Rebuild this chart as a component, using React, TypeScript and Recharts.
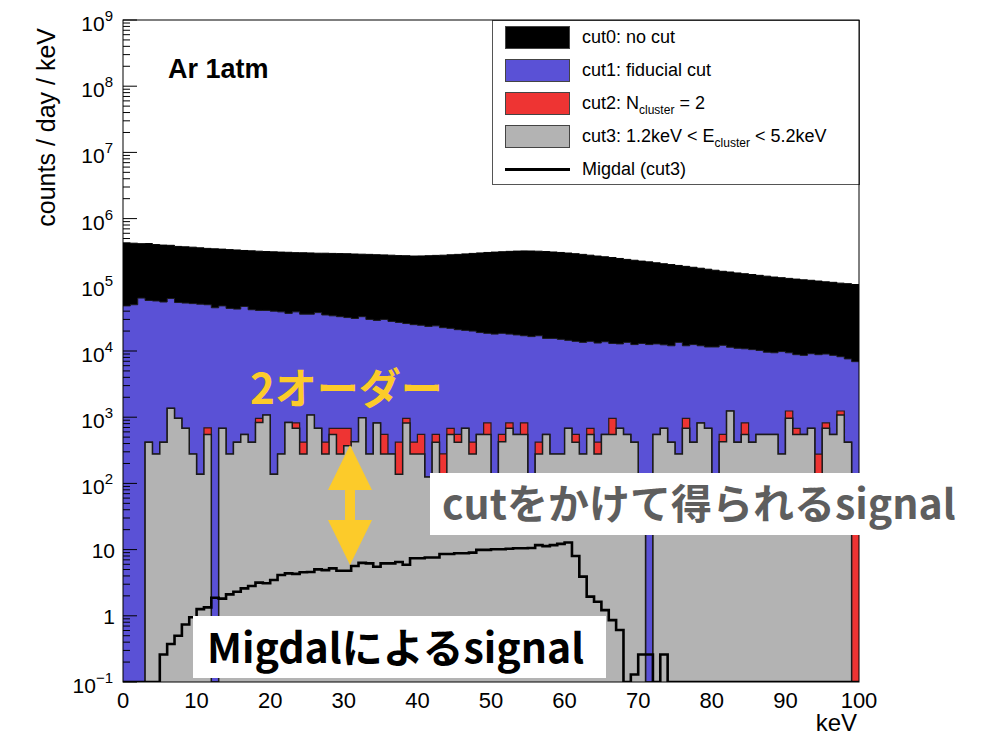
import React from "react";
import { ComposedChart, Area, Line, XAxis, YAxis } from "recharts";

// counts / day / keV per 1 keV bin (bin i covers [i, i+1) keV)
const CUT0_NO_CUT = [
  4.3e5, 4.25e5, 4.18e5, 4.2e5, 4.05e5, 3.98e5, 3.95e5, 3.8e5, 3.75e5, 3.7e5,
  3.62e5, 3.55e5, 3.5e5, 3.46e5, 3.4e5, 3.36e5, 3.3e5, 3.26e5, 3.22e5, 3.18e5,
  3.15e5, 3.12e5, 3.1e5, 3.06e5, 3.05e5, 3.03e5, 3.0e5, 3.0e5, 2.98e5, 2.96e5,
  2.95e5, 2.92e5, 2.9e5, 2.88e5, 2.85e5, 2.83e5, 2.8e5, 2.76e5, 2.75e5, 2.72e5,
  2.73e5, 2.75e5, 2.78e5, 2.8e5, 2.84e5, 2.88e5, 2.93e5, 2.98e5, 3.03e5, 3.08e5,
  3.12e5, 3.16e5, 3.2e5, 3.23e5, 3.25e5, 3.24e5, 3.22e5, 3.18e5, 3.13e5, 3.08e5,
  3.02e5, 2.95e5, 2.88e5, 2.8e5, 2.72e5, 2.65e5, 2.58e5, 2.5e5, 2.42e5, 2.35e5,
  2.28e5, 2.22e5, 2.15e5, 2.08e5, 2.02e5, 1.96e5, 1.9e5, 1.84e5, 1.78e5, 1.72e5,
  1.66e5, 1.6e5, 1.56e5, 1.51e5, 1.47e5, 1.43e5, 1.39e5, 1.35e5, 1.31e5, 1.28e5,
  1.25e5, 1.22e5, 1.19e5, 1.17e5, 1.14e5, 1.11e5, 1.09e5, 1.06e5, 1.04e5, 1.01e5,
];

const CUT1_FIDUCIAL = [
  4.8e4, 5.0e4, 6.3e4, 5.8e4, 5.7e4, 5.5e4, 6.2e4, 5.4e4, 5.3e4, 5.2e4,
  5.1e4, 5.0e4, 4.5e4, 4.8e4, 4.4e4, 4.3e4, 4.7e4, 4.2e4, 4.1e4, 4.1e4,
  4.0e4, 3.9e4, 3.7e4, 3.9e4, 3.6e4, 3.6e4, 3.8e4, 3.5e4, 3.4e4, 3.3e4,
  3.2e4, 3.1e4, 3.3e4, 3.0e4, 2.9e4, 3.0e4, 2.8e4, 2.7e4, 2.6e4, 2.5e4,
  2.45e4, 2.35e4, 2.4e4, 2.25e4, 2.2e4, 2.1e4, 2.05e4, 2.0e4, 1.9e4, 1.85e4,
  1.8e4, 1.85e4, 1.8e4, 1.75e4, 1.7e4, 1.65e4, 1.7e4, 1.55e4, 1.55e4, 1.5e4,
  1.45e4, 1.4e4, 1.35e4, 1.4e4, 1.32e4, 1.38e4, 1.3e4, 1.28e4, 1.35e4, 1.25e4,
  1.3e4, 1.25e4, 1.28e4, 1.24e4, 1.2e4, 1.35e4, 1.2e4, 1.25e4, 1.2e4, 1.15e4,
  1.15e4, 1.22e4, 1.14e4, 1.1e4, 1.08e4, 1.05e4, 1.02e4, 9.6e3, 9.4e3, 9.8e3,
  9.4e3, 8.8e3, 8.6e3, 9.1e3, 8.8e3, 9.0e3, 8.6e3, 8.2e3, 7.6e3, 6.9e3,
];

const CUT2_NCLUSTER = [
  0, 0, 0, 420, 277, 420, 1360, 960, 680, 277,
  138, 690, 0, 680, 277, 420, 550, 420, 960, 1080,
  138, 277, 835, 820, 420, 1080, 680, 420, 680, 680,
  680, 425, 980, 277, 820, 550, 277, 420, 960, 420,
  550, 125, 550, 280, 680, 550, 680, 420, 550, 820,
  120, 550, 820, 550, 820, 120, 420, 550, 277, 277,
  680, 550, 277, 680, 420, 550, 960, 680, 550, 420,
  110, 0, 550, 680, 420, 277, 960, 420, 820, 680,
  125, 550, 1240, 420, 820, 420, 550, 550, 550, 277,
  1240, 680, 550, 680, 277, 820, 550, 1240, 420, 100,
];

const CUT3_ECLUSTER = [
  0, 0, 0, 420, 277, 420, 1360, 960, 680, 277,
  138, 550, 0, 680, 277, 420, 550, 420, 835, 1080,
  138, 277, 835, 680, 277, 1080, 680, 277, 550, 277,
  370, 425, 980, 277, 820, 277, 277, 138, 820, 277,
  277, 125, 420, 125, 550, 420, 680, 277, 550, 550,
  120, 425, 680, 550, 550, 120, 277, 550, 277, 277,
  680, 420, 277, 550, 277, 550, 550, 680, 550, 420,
  110, 0, 550, 680, 420, 277, 680, 420, 820, 680,
  125, 425, 1240, 420, 550, 420, 550, 550, 550, 277,
  960, 550, 550, 680, 100, 680, 550, 1080, 420, 0,
];

const MIGDAL_CUT3 = [
  0, 0, 0, 0, 0, 0.26, 0.375, 0.5, 0.74, 0.95,
  1.26, 1.34, 1.87, 1.82, 2.11, 2.31, 2.6, 2.82, 3.17, 3.1,
  3.47, 4.13, 4.37, 4.3, 4.54, 4.6, 5.03, 4.9, 5.2, 4.8,
  4.8, 5.65, 6.3, 6.2, 5.5, 6.2, 6.2, 6.5, 5.9, 7.4,
  7.4, 7.6, 7.6, 8.6, 8.6, 8.8, 8.8, 9.0, 9.9, 9.9,
  10.1, 10.1, 10.3, 10.5, 10.5, 10.6, 11.7, 11.3, 11.7, 12.2,
  12.8, 8.0, 3.9, 1.95, 1.63, 1.22, 0.86, 0.61, 0, 0.13,
  0.26, 0.26, 0, 0.26, 0, 0, 0, 0, 0, 0,
  0, 0, 0, 0, 0, 0, 0, 0, 0, 0,
  0, 0, 0, 0, 0, 0, 0, 0, 0, 0,
];

const X_TICKS = [0, 10, 20, 30, 40, 50, 60, 70, 80, 90, 100];
const DECADES = [0.1, 1, 10, 1e2, 1e3, 1e4, 1e5, 1e6, 1e7, 1e8, 1e9];
const DECADE_LABELS = ["−1", "", "", "2", "3", "4", "5", "6", "7", "8", "9"];
const MINOR_STEPS = [2, 3, 4, 5, 6, 7, 8, 9];

const LEGEND_ITEMS = [
  { key: "cut0", label: "cut0: no cut", color: "#000000" },
  { key: "cut1", label: "cut1: fiducial cut", color: "#5a51d6" },
  { key: "cut2", label: "cut2: N", sub: "cluster", tail: " = 2", color: "#ee3433" },
  { key: "cut3", label: "cut3: 1.2keV < E", sub: "cluster", tail: " < 5.2keV", color: "#b3b3b3" },
  { key: "migdal", label: "Migdal (cut3)", color: null },
];

const ROOT_FONT = "'Liberation Sans', Arial, Helvetica, sans-serif";
const JP_FONT = "'Noto Sans CJK JP', 'Noto Sans', sans-serif";
const FLOOR = 0.1; // empty bins sit on the frame floor of the log axis

const Y_TICKS = DECADES.flatMap((d, i) =>
  i === DECADES.length - 1 ? [d] : [d, ...MINOR_STEPS.map((m) => m * d)]
);

const rows = Array.from({ length: 101 }, (_, x) => {
  const b = Math.min(x, 99);
  return {
    x,
    cut0: Math.max(CUT0_NO_CUT[b], FLOOR),
    cut1: Math.max(CUT1_FIDUCIAL[b], FLOOR),
    cut2: Math.max(CUT2_NCLUSTER[b], FLOOR),
    cut3: Math.max(CUT3_ECLUSTER[b], FLOOR),
    migdal: Math.max(MIGDAL_CUT3[b], FLOOR),
  };
});

function YTick(props: any) {
  const { x, y, payload } = props;
  const idx = DECADES.findIndex((d) => Math.abs(d - payload.value) < d * 1e-6);
  const major = idx >= 0;
  const left = x + 8;
  let label: React.ReactNode = null;
  if (major) {
    const sup = DECADE_LABELS[idx];
    const base = idx === 1 ? "1" : "10";
    label = (
      <text
        x={sup ? x - 2 : x}
        y={y + (sup ? 11 : 8)}
        textAnchor="end"
        fontFamily={ROOT_FONT}
        fontSize={21}
        fill="#000"
      >
        {base}
        {sup && (
          <tspan dy={-10} fontSize={15}>
            {sup}
          </tspan>
        )}
      </text>
    );
  }
  return (
    <g>
      <line x1={left} x2={left + (major ? 14 : 7)} y1={y} y2={y} stroke="#000" strokeWidth={1} />
      {label}
    </g>
  );
}

function LegendBox() {
  return (
    <div
      style={{
        position: "absolute",
        left: 492,
        top: 20,
        width: 368,
        height: 165,
        border: "1px solid #555",
        background: "#fff",
        boxSizing: "border-box",
        fontFamily: ROOT_FONT,
        fontSize: 18,
        color: "#000",
      }}
    >
      {LEGEND_ITEMS.map((it) => (
        <div key={it.key} style={{ position: "relative", height: 33 }}>
          {it.color ? (
            <div
              style={{
                position: "absolute",
                left: 12,
                top: 5,
                width: 65,
                height: 23,
                background: it.color,
                border: "1px solid #444",
                boxSizing: "border-box",
              }}
            />
          ) : (
            <div
              style={{ position: "absolute", left: 12, top: 15, width: 65, height: 3, background: "#000" }}
            />
          )}
          <div style={{ position: "absolute", left: 89, top: 5, whiteSpace: "nowrap", lineHeight: "22px" }}>
            {it.label}
            {it.sub && <sub style={{ fontSize: 12, verticalAlign: "-5px" }}>{it.sub}</sub>}
            {it.tail}
          </div>
        </div>
      ))}
    </div>
  );
}

export default function App() {
  return (
    <div style={{ position: "absolute", left: 0, top: 0, width: 985, height: 739, background: "#fff" }}>
      <ComposedChart
        width={985}
        height={739}
        data={rows}
        margin={{ top: 20, right: 126, left: 23, bottom: 17 }}
      >
        <XAxis
          dataKey="x"
          type="number"
          domain={[0, 100]}
          ticks={X_TICKS}
          interval={0}
          tickLine={false}
          axisLine={false}
          tickSize={0}
          tickMargin={10}
          height={40}
          tick={{ fontSize: 22, fill: "#000", fontFamily: ROOT_FONT }}
        />
        <YAxis
          type="number"
          scale="log"
          domain={[0.1, 1e9]}
          allowDataOverflow
          ticks={Y_TICKS}
          interval={0}
          tickSize={0}
          tickMargin={8}
          axisLine={false}
          width={100}
          tick={<YTick />}
          zIndex={-100}
        />
        <Area
          dataKey="cut0"
          type="stepAfter"
          fill="#000000"
          fillOpacity={1}
          stroke="#000"
          strokeWidth={1}
          isAnimationActive={false}
          dot={false}
          activeDot={false}
        />
        <Area
          dataKey="cut1"
          type="stepAfter"
          fill="#5a51d6"
          fillOpacity={1}
          stroke="#1a1a1a"
          strokeWidth={1}
          isAnimationActive={false}
          dot={false}
          activeDot={false}
        />
        <Area
          dataKey="cut2"
          type="stepAfter"
          fill="#ee3433"
          fillOpacity={1}
          stroke="#2a1a1a"
          strokeWidth={1.2}
          isAnimationActive={false}
          dot={false}
          activeDot={false}
        />
        <Area
          dataKey="cut3"
          type="stepAfter"
          fill="#b3b3b3"
          fillOpacity={1}
          stroke="#1a1a1a"
          strokeWidth={1.5}
          isAnimationActive={false}
          dot={false}
          activeDot={false}
        />
        <Line
          dataKey="migdal"
          type="stepAfter"
          stroke="#000"
          strokeWidth={2.6}
          isAnimationActive={false}
          dot={false}
          activeDot={false}
        />
      </ComposedChart>

      <LegendBox />

      <svg
        width={985}
        height={739}
        style={{ position: "absolute", left: 0, top: 0, pointerEvents: "none" }}
      >
        <rect x={123} y={20} width={736} height={662} fill="none" stroke="#000" strokeWidth={1} />
        <text
          transform="translate(55,28) rotate(-90)"
          textAnchor="end"
          fontFamily={ROOT_FONT}
          fontSize={25}
          fill="#000"
        >
          counts / day / keV
        </text>
        <text x={857} y={731} textAnchor="end" fontFamily={ROOT_FONT} fontSize={24} fill="#000">
          keV
        </text>
        <text x={168} y={78} fontFamily={ROOT_FONT} fontSize={27} fontWeight={700} fill="#000">
          Ar 1atm
        </text>

        <text x={250} y={404} fontFamily={JP_FONT} fontSize={42} fontWeight={700} fill="#fccb2a">
          2オーダー
        </text>
        <g fill="#fccb2a">
          <polygon points="350,445 328,490 372,490" />
          <rect x={345} y={488} width={10} height={34} />
          <polygon points="328,520 372,520 350,565" />
        </g>

        <rect x={430} y={473} width={532} height={62} fill="#fff" />
        <text x={442} y={519} fontFamily={JP_FONT} fontSize={41} fontWeight={700} fill="#5e5e5e">
          cutをかけて得られるsignal
        </text>

        <rect x={193} y={616} width={413} height={62} fill="#fff" />
        <text x={207} y={663} fontFamily={JP_FONT} fontSize={41} fontWeight={700} fill="#000">
          Migdalによるsignal
        </text>
      </svg>
    </div>
  );
}
